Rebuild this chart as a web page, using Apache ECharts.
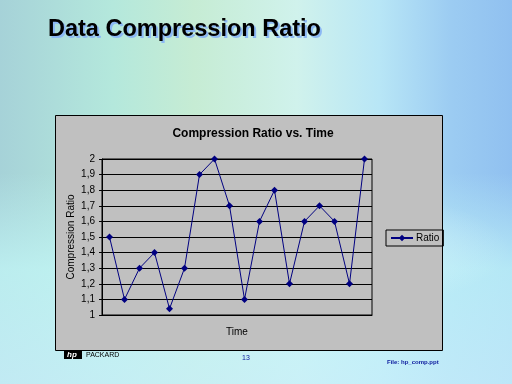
<!DOCTYPE html>
<html>
<head>
<meta charset="utf-8">
<script src="https://cdn.jsdelivr.net/npm/echarts@6/dist/echarts.min.js"></script>
<style>
html,body{margin:0;padding:0;}
body{width:512px;height:384px;overflow:hidden;
background:
 radial-gradient(ellipse 180px 60px at 330px 250px, rgba(230,250,252,0.6), rgba(230,250,252,0) 100%),
 linear-gradient(to bottom, rgba(200,250,250,0) 0%, rgba(200,250,250,0) 45%, rgba(196,248,248,0.7) 70%, rgba(200,240,250,0.8) 100%),
 linear-gradient(to right, #a6d2d8 0%, #b4e8dc 22%, #c6ecd4 38%, #d0f2ec 58%, #b8e6f6 74%, #9cccf2 88%, #90c0f0 100%);
}
#c{width:512px;height:384px;}
</style>
</head>
<body>
<div id="c"></div>
<script>
var categories = ['1','2','3','4','5','6','7','8','9','10','11','12','13','14','15','16','17','18'];
var ratioValues = [1.5, 1.1, 1.3, 1.4, 1.04, 1.3, 1.9, 2.0, 1.7, 1.1, 1.6, 1.8, 1.2, 1.6, 1.7, 1.6, 1.2, 2.0];
var seriesName = 'Ratio';
var pageTitle = 'Data Compression Ratio';
var chartTitle = 'Compression Ratio vs. Time';

var chart = echarts.init(document.getElementById('c'), null, {renderer:'canvas'});
var FF = 'Arial, "Liberation Sans", sans-serif';
chart.setOption({
  backgroundColor: 'transparent',
  animation: false,
  graphic: [
    {type:'rect', z:-10, shape:{x:55.5,y:115.5,width:387,height:235}, style:{fill:'#c0c0c0', stroke:'#000', lineWidth:1}},
    {type:'text', z:5, left:50, top:20, style:{text:pageTitle, fill:'#8cb8f4', font:'bold 23.5px '+FF}},
    {type:'text', z:6, left:48, top:18, style:{text:pageTitle, fill:'#000', font:'bold 23.5px '+FF}},
    {type:'rect', z:-20, shape:{x:64,y:351,width:18,height:8}, style:{fill:'#000'}},
    {type:'text', z:-19, left:67, top:351, style:{text:'hp', fill:'#fff', font:'italic bold 8px '+FF}},
    {type:'text', z:-19, left:86, top:345, style:{text:'HEWLETT', fill:'#000', font:'7px '+FF}},
    {type:'text', z:-19, left:86, top:352, style:{text:'PACKARD', fill:'#000', font:'7px '+FF}},
    {type:'text', z:-19, left:242, top:355, style:{text:'13', fill:'#1020a0', font:'7px '+FF}},
    {type:'text', z:-19, left:387, top:359, style:{text:'File: hp_comp.ppt', fill:'#1020a0', font:'bold 6px '+FF}}
  ],
  title: {
    text: chartTitle, left: 248, top: 123, textAlign: 'center',
    textStyle: {fontFamily: FF, fontSize: 12, fontWeight: 'bold', color: '#000'}
  },
  legend: {
    data: [seriesName], left: 386, top: 230, orient: 'vertical',
    borderColor: '#000', borderWidth: 1, padding: [3, 4, 3, 4],
    itemWidth: 22, itemHeight: 8, itemGap: 0,
    textStyle: {fontFamily: FF, fontSize: 10, color: '#000', padding:[0,0,0,-2]}
  },
  grid: {left: 102, top: 159, right: 140, bottom: 69, show: true, borderColor: '#000', borderWidth: 1, backgroundColor: 'transparent'},
  xAxis: {
    type: 'category', data: categories, boundaryGap: true,
    name: 'Time', nameLocation: 'middle', nameGap: 12,
    nameTextStyle: {fontFamily: FF, fontSize: 10, color: '#000'},
    axisLine: {lineStyle: {color: '#000', width: 1}},
    axisTick: {show: false},
    axisLabel: {show: false}
  },
  yAxis: {
    type: 'value', min: 1, max: 2, interval: 0.1,
    name: 'Compression Ratio', nameLocation: 'middle', nameGap: 26, nameRotate: 90,
    nameMoveOverlap: false,
    nameTextStyle: {fontFamily: FF, fontSize: 10, color: '#000'},
    axisLine: {show: true, lineStyle: {color: '#000', width: 1}},
    axisTick: {show: true, length: 3, lineStyle: {color: '#000'}},
    splitLine: {show: true, lineStyle: {color: '#000', width: 1}},
    axisLabel: {
      fontFamily: FF, fontSize: 10, color: '#000', margin: 7,
      formatter: function (v) { var s = (Math.round(v * 10) / 10).toFixed(1); if (s.slice(-2) === '.0') s = s.slice(0, -2); return s.replace('.', ','); }
    }
  },
  series: [{
    name: seriesName, type: 'line', data: ratioValues,
    symbol: 'diamond', symbolSize: 7,
    lineStyle: {color: '#000080', width: 1},
    itemStyle: {color: '#000080'}
  }]
});
</script>
</body>
</html>
